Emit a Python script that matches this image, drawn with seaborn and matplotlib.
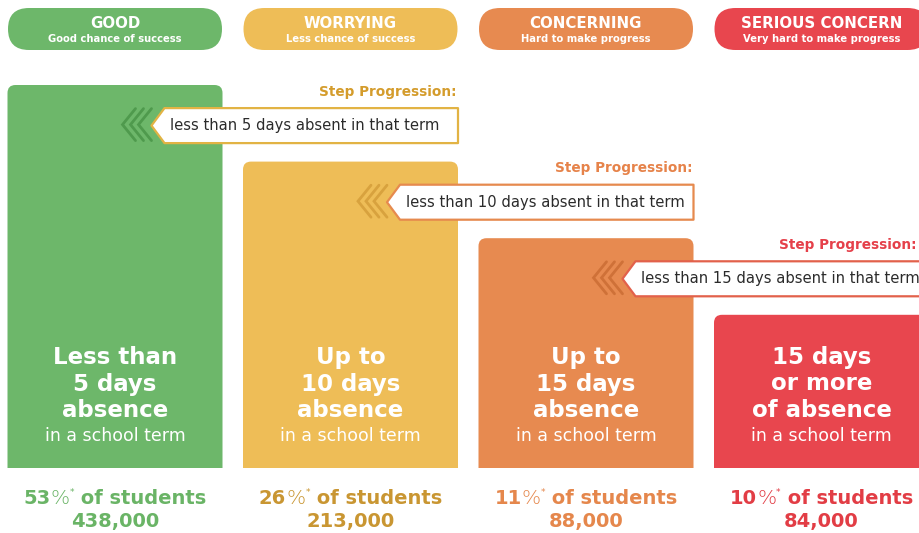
import matplotlib.pyplot as plt
import seaborn as sns
from matplotlib.patches import FancyBboxPatch, Polygon
from matplotlib.offsetbox import TextArea, HPacker, AnnotationBbox

# data
categories = ["GOOD", "WORRYING", "CONCERNING", "SERIOUS CONCERN"]
subtitles = ["Good chance of success", "Less chance of success",
             "Hard to make progress", "Very hard to make progress"]
step_level = [5, 4, 3, 2]
headlines = ["Less than\n5 days\nabsence", "Up to\n10 days\nabsence",
             "Up to\n15 days\nabsence", "15 days\nor more\nof absence"]
pct_students = ["53", "26", "11", "10"]
n_students = ["438,000", "213,000", "88,000", "84,000"]
step_text = ["less than 5 days absent in that term",
             "less than 10 days absent in that term",
             "less than 15 days absent in that term"]

colors = ["#6db76a", "#eebd57", "#e78a50", "#e8464e"]
text_colors = ["#6ab466", "#c99632", "#e5874c", "#e23d45"]
step_colors = ["#d49c2c", "#e6834a", "#e5404a"]
box_edges = ["#e2b344", "#e68a4e", "#e2614b"]
chevron_colors = ["#4f9a4d", "#d8a23e", "#cf7138"]

# layout in pixels
W, H = 920, 533
PITCH, X0, BASE, UNIT = 235.5, 115, 468, 76.6

sns.set_style("white")
plt.rcParams["font.family"] = ["DejaVu Sans"]

fig = plt.figure(figsize=(W / 100, H / 100), dpi=100)

# bars
ax_bar = fig.add_axes([0, (H - BASE) / H, 1, BASE / H])
sns.barplot(x=categories, y=step_level, hue=categories, palette=colors,
            legend=False, width=215 / PITCH, saturation=1, ax=ax_bar)
ax_bar.set_xlim(-X0 / PITCH, (W - X0) / PITCH)
ax_bar.set_ylim(0, BASE / UNIT)
ax_bar.axis("off")

r = 8 / PITCH
for p in list(ax_bar.patches):
    rb = FancyBboxPatch((p.get_x(), -1), p.get_width(), p.get_height() + 1,
                        boxstyle=f"round,pad=0,rounding_size={r}",
                        mutation_aspect=PITCH / UNIT,
                        fc=p.get_facecolor(), ec="none")
    p.remove()
    ax_bar.add_patch(rb)

# overlay in pixel coords
ax = fig.add_axes([0, 0, 1, 1])
ax.set_xlim(0, W)
ax.set_ylim(H, 0)
ax.axis("off")

for i, cat in enumerate(categories):
    cx = X0 + i * PITCH

    # header pill
    ax.add_patch(FancyBboxPatch((cx - 107, 8), 214, 42,
                                boxstyle="round,pad=0,rounding_size=21",
                                fc=colors[i], ec="none"))
    ax.text(cx, 24, cat, ha="center", va="center", color="white",
            fontsize=10.8, fontweight="bold")
    ax.text(cx, 39.5, subtitles[i], ha="center", va="center", color="white",
            fontsize=7.2, fontweight="bold")

    # text inside bar
    ax.text(cx, 384, headlines[i], ha="center", va="center", color="white",
            fontsize=16.5, fontweight="bold", linespacing=1.2)
    ax.text(cx, 436, "in a school term", ha="center", va="center",
            color="white", fontsize=12.5)

    # bottom figures
    tp = dict(color=text_colors[i], fontsize=14, fontweight="bold")
    pack = HPacker(children=[
        TextArea(pct_students[i], textprops=tp),
        TextArea("%", textprops=dict(color=text_colors[i], fontsize=14.5,
                                     fontweight="light")),
        TextArea("*", textprops=dict(color=text_colors[i], fontsize=6.5)),
        TextArea(" of students", textprops=tp),
    ], align="top", pad=0, sep=0)
    ax.add_artist(AnnotationBbox(pack, (cx, 498), frameon=False,
                                 box_alignment=(0.5, 0.5), pad=0))
    ax.text(cx, 522, n_students[i], ha="center", va="center",
            color=text_colors[i], fontsize=14, fontweight="bold")

# step progression arrows
for i, txt in enumerate(step_text):
    right_prev = X0 + i * PITCH + 107.5
    right_next = X0 + (i + 1) * PITCH + 107.5
    top_next = BASE - step_level[i + 1] * UNIT
    cy = top_next - 36
    tip = right_prev - 71

    ax.text(min(right_next - 1, W - 3), top_next - 70, "Step Progression:",
            ha="right", va="center", color=step_colors[i], fontsize=9.8,
            fontweight="bold")

    ax.add_patch(Polygon([(tip, cy), (tip + 13, cy - 17.5),
                          (right_next, cy - 17.5), (right_next, cy + 17.5),
                          (tip + 13, cy + 17.5)], closed=True, fc="white",
                         ec=box_edges[i], lw=1.6, joinstyle="round"))
    ax.text(tip + 19, cy, txt, ha="left", va="center", color="#2b2b2b",
            fontsize=10.6)

    for k in range(3):
        x = tip - 29 + 8 * k
        ax.plot([x + 13, x, x + 13], [cy - 17, cy - 1, cy + 15],
                color=chevron_colors[i], lw=2, solid_joinstyle="miter")

fig.savefig("out.png", dpi=100)
